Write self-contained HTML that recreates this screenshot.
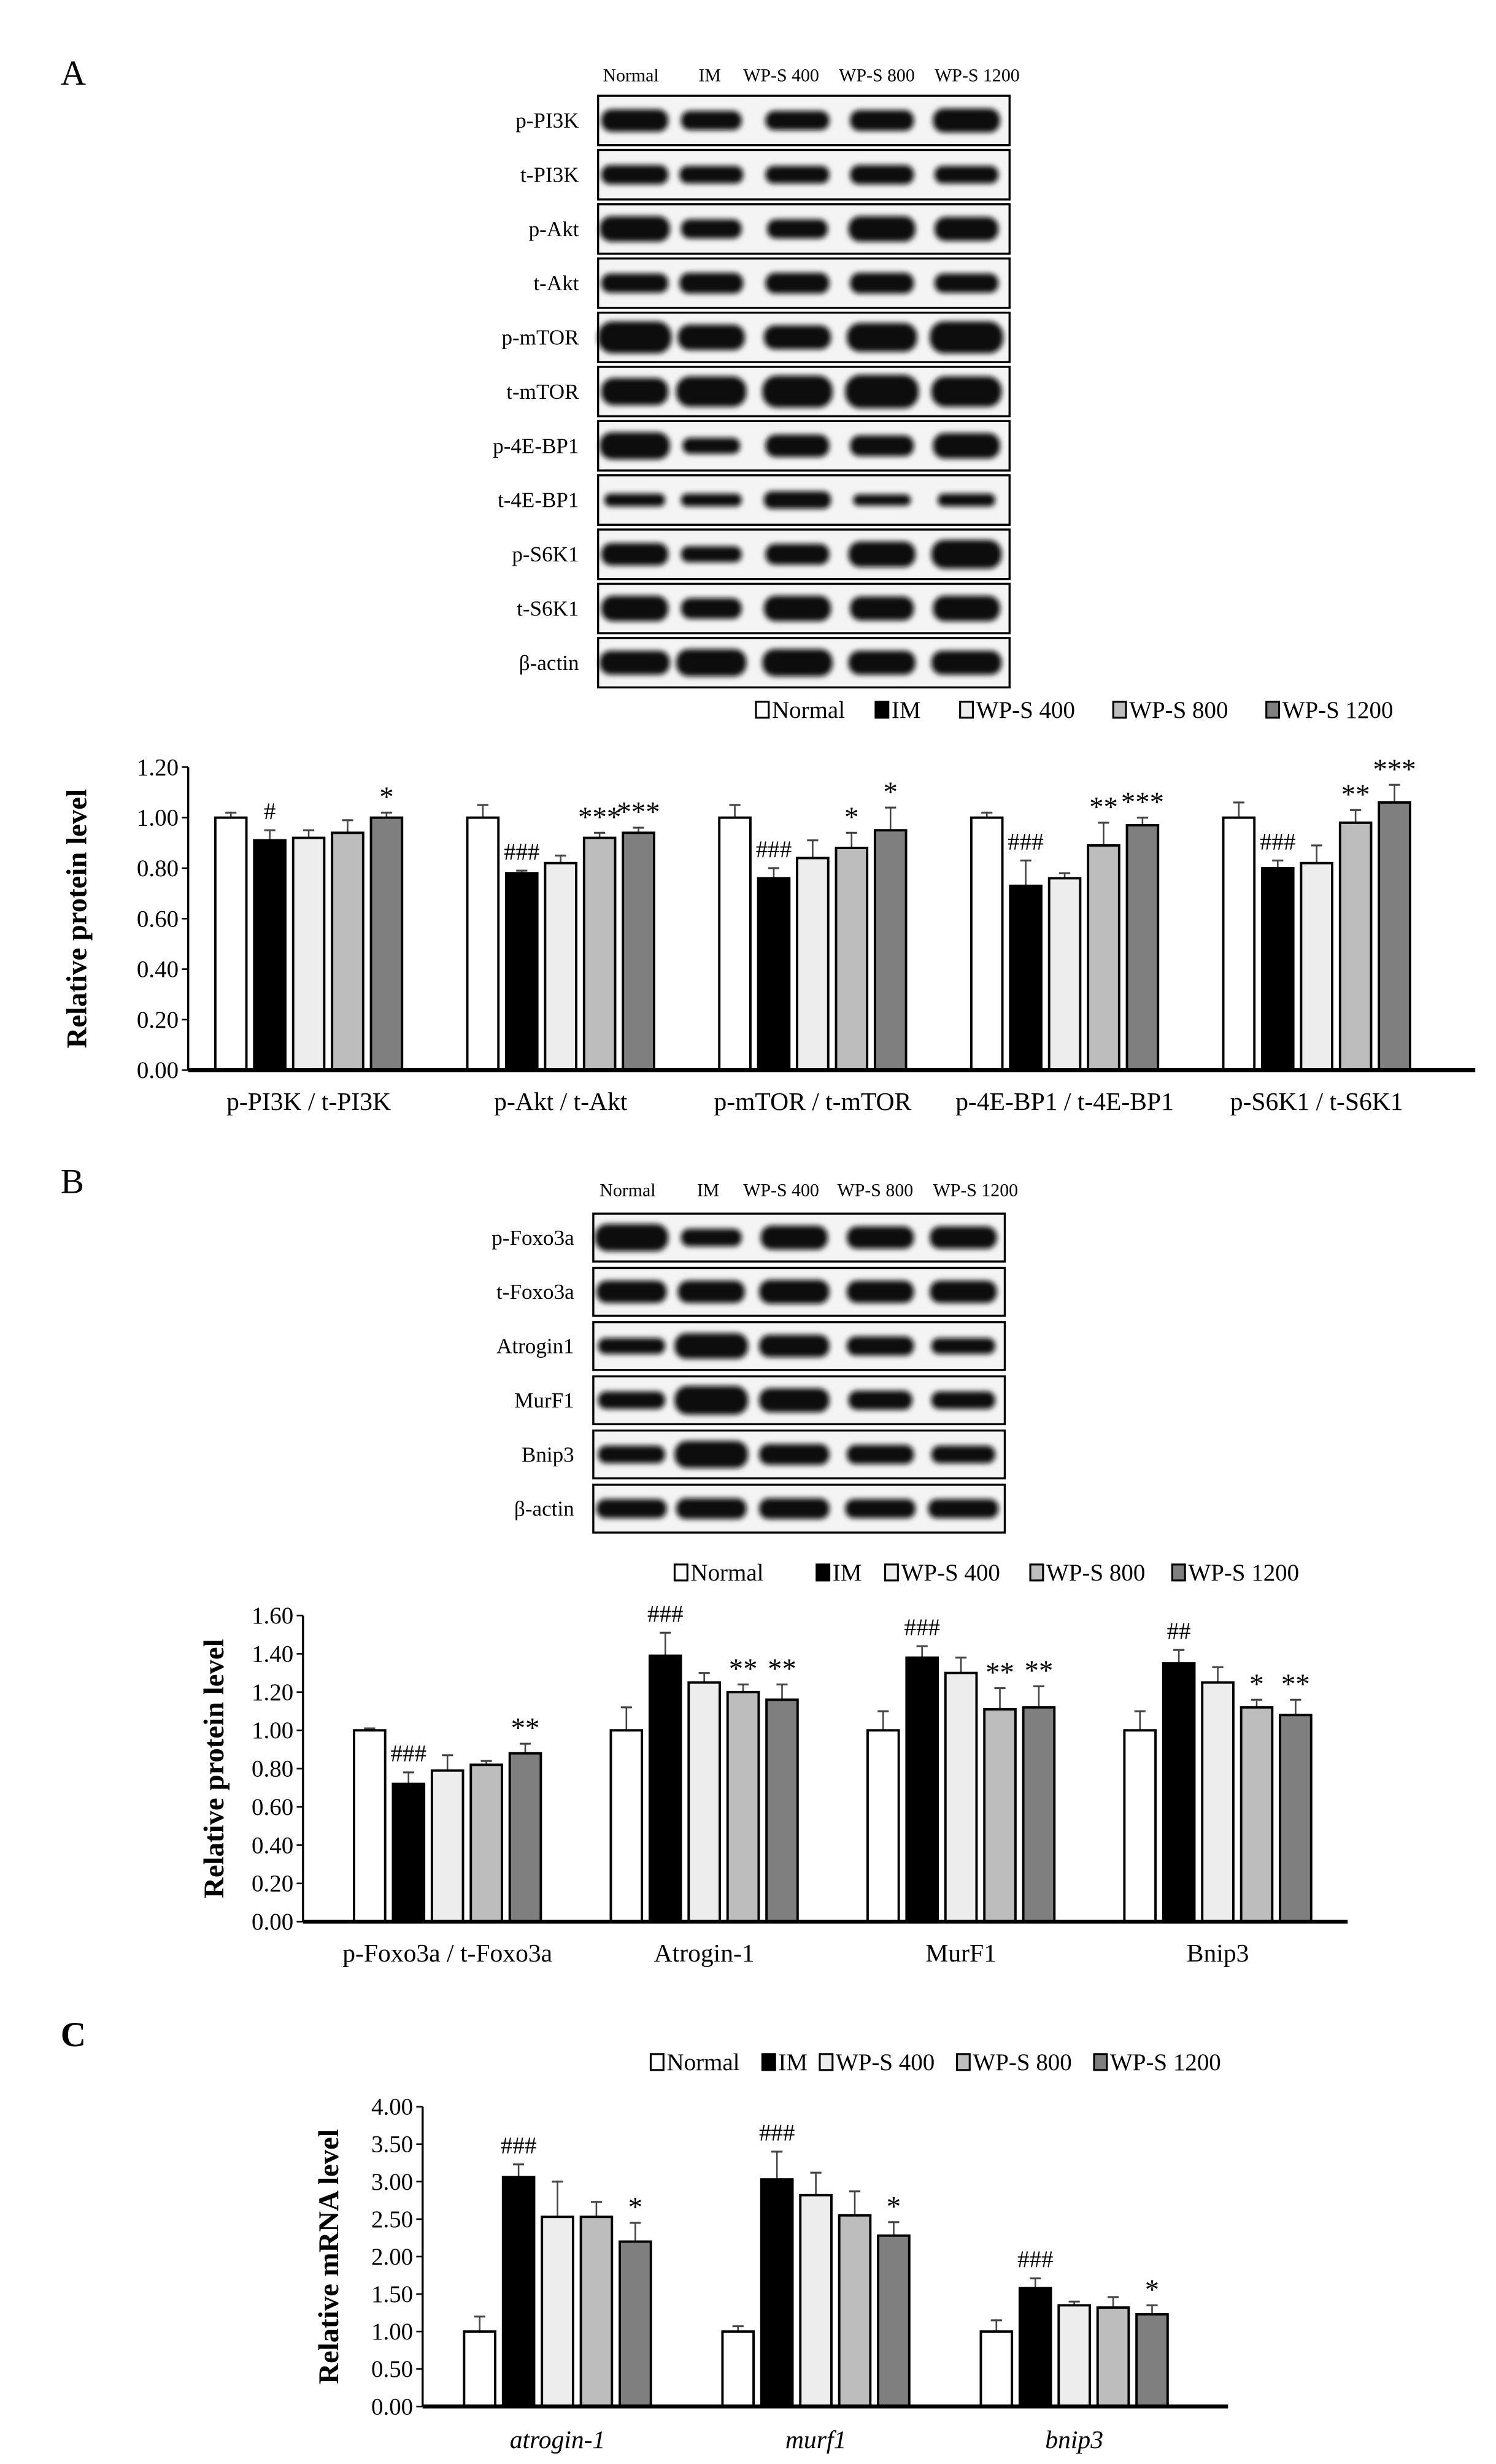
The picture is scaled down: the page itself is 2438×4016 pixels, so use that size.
<!DOCTYPE html>
<html><head><meta charset="utf-8"><style>
html,body{margin:0;padding:0;background:#fff;}
svg{display:block;}
text{font-family:"Liberation Serif",serif;fill:#000;}
</style></head><body>
<svg id="s" width="2438" height="4016" viewBox="0 0 938 1545" xmlns="http://www.w3.org/2000/svg">
<defs><filter id="bl" x="-20%" y="-50%" width="140%" height="200%"><feGaussianBlur stdDeviation="1.6"/></filter></defs>
<rect width="938" height="1545" fill="#fff"/>
<text x="38" y="53" font-size="22">A</text>
<text x="38" y="748" font-size="22">B</text>
<text x="38" y="1283" font-size="22" font-weight="bold">C</text>
<g id="g"></g>
</svg>
<script>
var NS="http://www.w3.org/2000/svg",G=document.getElementById('g');
function el(t,a,txt){var e=document.createElementNS(NS,t);for(var k in a)e.setAttribute(k,a[k]);if(txt!==undefined)e.textContent=txt;G.appendChild(e);return e;}
function T(x,y,s,fs,o){o=o||{};var a={x:x,y:y,'font-size':fs};for(var k in o)a[k]=o[k];return el('text',a,s);}
var cols=['#ffffff','#000000','#ededed','#bdbdbd','#7f7f7f'];
var names=['Normal','IM','WP-S 400','WP-S 800','WP-S 1200'];
function blots(x0,x1,rows,top,h,gap,lanes,labX,hdrY,hdrX){
  T(hdrX[0],hdrY,'Normal',11.5);T(hdrX[1],hdrY,'IM',11.5);T(hdrX[2],hdrY,'WP-S 400',11.5);T(hdrX[3],hdrY,'WP-S 800',11.5);T(hdrX[4],hdrY,'WP-S 1200',11.5);
  rows.forEach(function(r,i){var y=top+i*(h+gap);
    el('rect',{x:x0,y:y,width:x1-x0,height:h,fill:'#f4f4f4',stroke:'#000','stroke-width':1.3});
    T(labX,y+h/2+4.5,r[0],13.5,{'text-anchor':'end'});
    lanes.forEach(function(c,j){var w=r[1][j]||40,bh=r[2][j]||13;
      el('rect',{x:c-w/2,y:y+h/2-bh/2,width:w,height:bh,rx:bh/2.2,fill:'#0a0a0a',filter:'url(#bl)'});});
  });
}
var LA=[398,446,500,553,606];
blots(375,633,[
['p-PI3K',[42,38,40,40,42],[14,12,12,13,15]],
['t-PI3K',[42,40,40,40,40],[12,11,11,12,11]],
['p-Akt',[44,38,38,42,40],[16,12,12,16,15]],
['t-Akt',[42,40,40,40,40],[12,13,13,13,12]],
['p-mTOR',[46,42,42,44,46],[20,16,15,18,20]],
['t-mTOR',[42,44,44,46,44],[17,19,20,21,19]],
['p-4E-BP1',[44,36,40,40,42],[17,10,14,13,16]],
['t-4E-BP1',[38,38,42,36,36],[8,8,11,7,8]],
['p-S6K1',[42,38,40,42,44],[14,10,13,16,18]],
['t-S6K1',[42,38,42,40,42],[16,13,16,15,16]],
['β-actin',[44,44,44,42,44],[15,17,17,15,15]]
],60,31,3,LA,363,51,[378,438,466,526,586]);
var LB=[396,446,498,552,604];
blots(372,630,[
['p-Foxo3a',[46,38,42,42,42],[17,11,15,14,14]],
['t-Foxo3a',[44,42,44,42,42],[14,14,15,14,14]],
['Atrogin1',[42,46,44,42,40],[10,16,14,12,10]],
['MurF1',[42,46,44,40,40],[11,18,15,12,11]],
['Bnip3',[42,46,44,42,40],[11,17,13,12,11]],
['β-actin',[44,44,44,44,44],[12,13,13,12,12]]
],761,30,4,LB,360,750,[376,437,466,525,585]);
function legend(y,xs){xs.forEach(function(x,i){el('rect',{x:x,y:y-10,width:8,height:10,fill:cols[i],stroke:'#000','stroke-width':1.2});T(x+10,y,names[i],15);});}
legend(450,[474,549,602,698,794]);
legend(991,[423,512,555,646,735]);
legend(1298,[408,478,514,600,686]);
function chart(o){
  var ax=o.ax,y0=o.y0,ytop=o.ytop,max=o.max,sc=(y0-ytop)/max;
  for(var v=0;v<=max+1e-9;v+=o.step){var yy=y0-v*sc;
    el('line',{x1:ax-4,y1:yy,x2:ax,y2:yy,stroke:'#000','stroke-width':1});
    T(ax-6,yy+5,v.toFixed(2),15,{'text-anchor':'end'});}
  el('line',{x1:ax,y1:ytop,x2:ax,y2:y0,stroke:'#000','stroke-width':1.3});
  o.groups.forEach(function(g,gi){var gx=o.gx0+gi*o.gp;
    g.v.forEach(function(d,i){var x=gx+i*o.bp,top=y0-d[0]*sc,et=y0-(d[0]+d[1])*sc,cx=x+o.bw/2;
      el('line',{x1:cx,y1:top,x2:cx,y2:et,stroke:'#444','stroke-width':1});
      el('line',{x1:cx-3.5,y1:et,x2:cx+3.5,y2:et,stroke:'#444','stroke-width':1.2});
      el('rect',{x:x,y:top,width:o.bw,height:y0-top,fill:cols[i],stroke:'#000','stroke-width':1.5});
      if(d[2]){var isH=d[2][0]=='#';
        T(cx,isH?(et-7):(et-4),d[2],isH?15:18,{'text-anchor':'middle','fill':isH?'#333':'#000'});}
    });
    T(gx+2*o.bp+o.bw/2,o.ly,g.n,16,o.it?{'text-anchor':'middle','font-style':'italic'}:{'text-anchor':'middle'});
  });
  el('line',{x1:ax,y1:y0,x2:o.ax1,y2:y0,stroke:'#000','stroke-width':2.5});
  T(0,0,o.yl,18,{'font-weight':'bold','text-anchor':'middle',transform:'translate('+o.ylx+','+((y0+ytop)/2)+') rotate(-90)'});
}
chart({ax:118,y0:671,ytop:481,max:1.2,step:0.2,gx0:135,gp:158,bp:24.4,bw:19.5,ly:696,ax1:925,ylx:54,yl:'Relative protein level',
groups:[
{n:'p-PI3K / t-PI3K',v:[[1,.02],[.91,.04,'#'],[.92,.03],[.94,.05],[1,.02,'*']]},
{n:'p-Akt / t-Akt',v:[[1,.05],[.78,.01,'###'],[.82,.03],[.92,.02,'***'],[.94,.02,'***']]},
{n:'p-mTOR / t-mTOR',v:[[1,.05],[.76,.04,'###'],[.84,.07],[.88,.06,'*'],[.95,.09,'*']]},
{n:'p-4E-BP1 / t-4E-BP1',v:[[1,.02],[.73,.10,'###'],[.76,.02],[.89,.09,'**'],[.97,.03,'***']]},
{n:'p-S6K1 / t-S6K1',v:[[1,.06],[.80,.03,'###'],[.82,.07],[.98,.05,'**'],[1.06,.07,'***']]}]});
chart({ax:190,y0:1205,ytop:1013,max:1.6,step:0.2,gx0:222,gp:161,bp:24.4,bw:19.5,ly:1230,ax1:845,ylx:140,yl:'Relative protein level',
groups:[
{n:'p-Foxo3a / t-Foxo3a',v:[[1,.01],[.72,.06,'###'],[.79,.08],[.82,.02],[.88,.05,'**']]},
{n:'Atrogin-1',v:[[1,.12],[1.39,.12,'###'],[1.25,.05],[1.20,.04,'**'],[1.16,.08,'**']]},
{n:'MurF1',v:[[1,.10],[1.38,.06,'###'],[1.30,.08],[1.11,.11,'**'],[1.12,.11,'**']]},
{n:'Bnip3',v:[[1,.10],[1.35,.07,'##'],[1.25,.08],[1.12,.04,'*'],[1.08,.08,'**']]}]});
chart({ax:265,y0:1509,ytop:1321,max:4,step:0.5,gx0:291,gp:162,bp:24.4,bw:19.5,ly:1535,ax1:770,ylx:212,it:1,yl:'Relative mRNA level',
groups:[
{n:'atrogin-1',v:[[1,.2],[3.06,.17,'###'],[2.53,.47],[2.53,.2],[2.20,.25,'*']]},
{n:'murf1',v:[[1,.07],[3.03,.37,'###'],[2.82,.3],[2.55,.32],[2.28,.18,'*']]},
{n:'bnip3',v:[[1,.15],[1.58,.13,'###'],[1.35,.05],[1.32,.14],[1.23,.12,'*']]}]});
</script>
</body></html>
